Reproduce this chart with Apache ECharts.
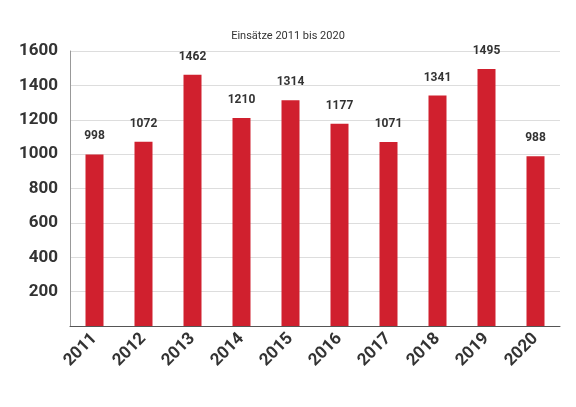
<!DOCTYPE html>
<html><head><meta charset="utf-8">
<script src="https://cdn.jsdelivr.net/npm/echarts@6/dist/echarts.min.js"></script>
<style>html,body{margin:0;padding:0;background:#fff}#c{width:576px;height:407px}</style>
</head><body><div id="c"></div>
<script>
const categories = ['2011','2012','2013','2014','2015','2016','2017','2018','2019','2020'];
const values = [998,1072,1462,1210,1314,1177,1071,1341,1495,988];
const yTicks = [0,200,400,600,800,1000,1200,1400,1600];
const chart = echarts.init(document.getElementById('c'));
chart.setOption({
  animation:false,
  title:{text:'Einsätze 2011 bis 2020',left:'center',top:26,textStyle:{fontFamily:'Roboto',fontSize:11,fontWeight:'normal',color:'#333'}},
  grid:{left:70,right:16,top:51,bottom:81},
  xAxis:{type:'category',data:categories,
    axisLine:{lineStyle:{color:'#555'}},axisTick:{show:false},
    axisLabel:{rotate:45,fontFamily:'Roboto',fontWeight:'bold',fontSize:17,color:'#333',margin:10}},
  yAxis:{type:'value',min:0,max:1600,interval:200,
    axisLine:{show:true,lineStyle:{color:'#999'}},
    splitLine:{lineStyle:{color:'#ddd'}},
    axisLabel:{fontFamily:'Roboto',fontWeight:'bold',fontSize:17,color:'#333',margin:12,
      formatter:v=>v===0?'':String(v)}},
  series:[{type:'bar',data:values,barWidth:18,itemStyle:{color:'#d0202e'},
    label:{show:true,position:'top',distance:12,fontFamily:'Roboto',fontWeight:'bold',fontSize:12,color:'#333'}}]
});
</script></body></html>
